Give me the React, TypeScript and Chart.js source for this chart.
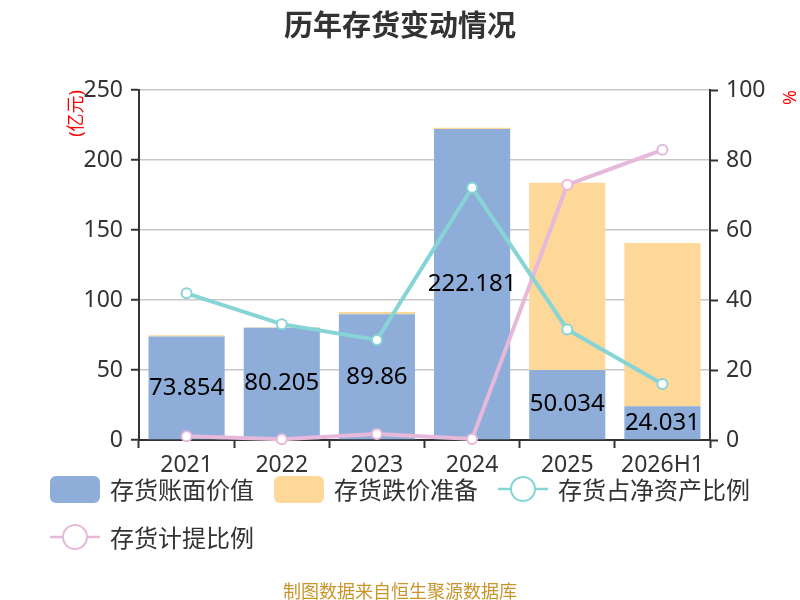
import React, { useEffect, useRef } from "react";
import { Chart, registerables } from "chart.js";

Chart.register(...registerables);

// data
const years = ["2021", "2022", "2023", "2024", "2025", "2026H1"];
const bookValue = [73.854, 80.205, 89.86, 222.181, 50.034, 24.031];
const impairment = [1.0, 0.4, 1.5, 0.8, 133.8, 116.7];
const shareOfNetAssets = [41.9, 33.1, 28.6, 72.1, 31.6, 16.0];
const provisionRatio = [1.1, 0.2, 1.7, 0.3, 72.9, 82.9];

const leftTicks = [0, 50, 100, 150, 200, 250];
const rightTicks = [0, 20, 40, 60, 80, 100];

const BLUE = "#8eaed9";
const ORANGE = "#fed899";
const CYAN = "#86d4d6";
const PINK = "#e6b9da";
const FONT = '"Noto Sans", "Noto Sans CJK SC", sans-serif';

// draws the book value in the middle of each blue bar
const barLabels = {
  id: "barLabels",
  afterDatasetsDraw(chart: any) {
    const ctx = chart.ctx;
    const meta = chart.getDatasetMeta(0);
    ctx.save();
    ctx.font = "24px " + FONT;
    ctx.fillStyle = "#000";
    ctx.textAlign = "center";
    ctx.textBaseline = "middle";
    meta.data.forEach((bar: any, i: number) => {
      ctx.fillText(String(bookValue[i]), bar.x, (bar.y + bar.base) / 2);
    });
    ctx.restore();
  },
};

const LegendBox = ({ color }: { color: string }) => (
  <span
    style={{
      display: "inline-block",
      width: 50,
      height: 27,
      borderRadius: 6,
      background: color,
    }}
  />
);

const LegendLine = ({ color }: { color: string }) => (
  <svg width="50" height="28" style={{ display: "block" }}>
    <line x1="0" y1="14" x2="50" y2="14" stroke={color} strokeWidth="2.5" />
    <circle cx="25" cy="14" r="12" fill="#fff" stroke={color} strokeWidth="2" />
  </svg>
);

const legendItems = [
  { label: "存货账面价值", icon: <LegendBox color={BLUE} /> },
  { label: "存货跌价准备", icon: <LegendBox color={ORANGE} /> },
  { label: "存货占净资产比例", icon: <LegendLine color={CYAN} /> },
  { label: "存货计提比例", icon: <LegendLine color={PINK} /> },
];

const App = () => {
  const canvasRef = useRef<HTMLCanvasElement>(null);

  useEffect(() => {
    if (!canvasRef.current) return;
    Chart.defaults.font.family = FONT;
    Chart.defaults.color = "#333";

    const chart = new Chart(canvasRef.current, {
      type: "bar",
      data: {
        labels: years,
        datasets: [
          {
            type: "bar",
            label: "存货账面价值",
            data: bookValue,
            backgroundColor: BLUE,
            yAxisID: "y",
            order: 1,
            barPercentage: 0.8,
            categoryPercentage: 1,
          },
          {
            type: "bar",
            label: "存货跌价准备",
            data: impairment,
            backgroundColor: ORANGE,
            yAxisID: "y",
            order: 1,
            barPercentage: 0.8,
            categoryPercentage: 1,
          },
          {
            type: "line",
            label: "存货占净资产比例",
            data: shareOfNetAssets,
            borderColor: CYAN,
            borderWidth: 4,
            pointRadius: 5,
            pointBackgroundColor: "#fff",
            pointBorderColor: CYAN,
            pointBorderWidth: 2,
            yAxisID: "y1",
            order: 0,
            clip: false,
          } as any,
          {
            type: "line",
            label: "存货计提比例",
            data: provisionRatio,
            borderColor: PINK,
            borderWidth: 4,
            pointRadius: 5,
            pointBackgroundColor: "#fff",
            pointBorderColor: PINK,
            pointBorderWidth: 2,
            yAxisID: "y1",
            order: 0,
            clip: false,
          } as any,
        ],
      },
      options: {
        animation: false,
        responsive: false,
        layout: { padding: { top: 90, left: 60, right: 0, bottom: 0 } },
        plugins: {
          legend: { display: false },
          tooltip: { enabled: false },
        },
        scales: {
          x: {
            stacked: true,
            border: { color: "#333", width: 2 },
            grid: {
              offset: true,
              drawOnChartArea: false,
              tickLength: 8,
              tickColor: "#333",
              tickWidth: 2,
            },
            ticks: { font: { size: 23 }, color: "#333", padding: 4, maxRotation: 0 },
            afterFit: (scale: any) => {
              scale.height = 160;
            },
          },
          y: {
            stacked: true,
            position: "left",
            min: 0,
            max: 250,
            afterBuildTicks: (scale: any) => {
              scale.ticks = leftTicks.map((v) => ({ value: v }));
            },
            border: { color: "#333", width: 2 },
            grid: {
              color: "#c8c8c8",
              lineWidth: 1.5,
              tickLength: 8,
              tickColor: "#333",
              tickWidth: 2,
            },
            ticks: { font: { size: 23 }, color: "#333", padding: 8 },
            title: {
              display: true,
              text: "(亿元)",
              color: "#ff0000",
              align: "end",
              font: { size: 18 },
              padding: { top: 6, bottom: 0 },
            },
            afterFit: (scale: any) => {
              scale.width = 79;
            },
          },
          y1: {
            stacked: false,
            position: "right",
            min: 0,
            max: 100,
            afterBuildTicks: (scale: any) => {
              scale.ticks = rightTicks.map((v) => ({ value: v }));
            },
            border: { color: "#333", width: 2 },
            grid: {
              drawOnChartArea: false,
              tickLength: 8,
              tickColor: "#333",
              tickWidth: 2,
            },
            ticks: { font: { size: 23 }, color: "#333", padding: 8 },
            title: {
              display: true,
              text: "%",
              color: "#ff0000",
              align: "end",
              font: { size: 18 },
              padding: { top: 1, bottom: 0 },
            },
            afterFit: (scale: any) => {
              scale.width = 90;
            },
          },
        },
      },
      plugins: [barLabels],
    });

    return () => {
      chart.destroy();
    };
  }, []);

  return (
    <div
      style={{
        position: "fixed",
        left: 0,
        top: 0,
        width: 800,
        height: 600,
        background: "#fff",
        fontFamily: FONT,
        overflow: "hidden",
      }}
    >
      <canvas
        ref={canvasRef}
        width={800}
        height={600}
        style={{ position: "absolute", left: 0, top: 0, width: 800, height: 600 }}
      />
      {/* Title */}
      <div
        style={{
          position: "absolute",
          top: 7,
          left: 0,
          width: 800,
          textAlign: "center",
          fontSize: 29,
          lineHeight: "32px",
          fontWeight: 700,
          color: "#333",
          fontFamily: '"Noto Sans CJK SC", sans-serif',
        }}
      >
        历年存货变动情况
      </div>
      {/* Legend */}
      <div
        style={{
          position: "absolute",
          left: 50,
          top: 465,
          width: 720,
          display: "flex",
          flexWrap: "wrap",
          columnGap: 20,
        }}
      >
        {legendItems.map((item) => (
          <div
            key={item.label}
            style={{ display: "flex", alignItems: "center", height: 48, gap: 10 }}
          >
            {item.icon}
            <span
              style={{
                fontSize: 24,
                color: "#333",
                fontFamily: '"Noto Sans CJK SC", sans-serif',
                lineHeight: "28px",
              }}
            >
              {item.label}
            </span>
          </div>
        ))}
      </div>
      {/* Footer */}
      <div
        style={{
          position: "absolute",
          top: 579,
          left: 0,
          width: 800,
          textAlign: "center",
          fontSize: 18,
          lineHeight: "22px",
          color: "#c9952b",
          fontFamily: '"Noto Sans CJK SC", sans-serif',
        }}
      >
        制图数据来自恒生聚源数据库
      </div>
    </div>
  );
};

export default App;
